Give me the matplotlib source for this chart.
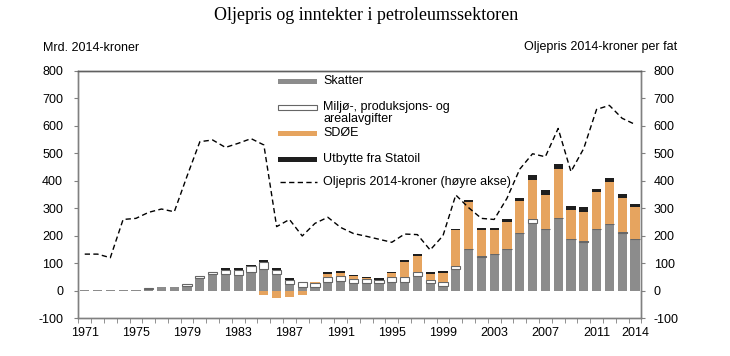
import numpy as np
import matplotlib.pyplot as plt
from matplotlib.patches import Rectangle
from matplotlib.lines import Line2D

plt.rcParams['font.family'] = ['Liberation Sans', 'DejaVu Sans']
plt.rcParams['font.size'] = 9
plt.rcParams['axes.unicode_minus'] = False

# data, milliarder 2014-kroner (venstre akse) og kroner per fat (høyre akse)
years = np.arange(1971, 2015)
skatter = [3, 3, 3, 4, 4, 7, 15, 15, 18,
           45, 59, 59, 56, 67, 78, 61, 23, 15, 12,
           33, 36, 27, 27, 27, 33, 33, 55, 27, 17,
           78, 150, 124, 133, 150, 208, 247, 223, 263, 187, 178, 223, 242, 211, 187]
miljo = [0, 0, 0, 0, 0, 1, 0, 0, 5,
         10, 10, 15, 19, 21, 27, 15, 16, 15, 17,
         18, 18, 15, 16, 12, 15, 18, 12, 12, 13,
         12, 2, 1, 1, 1, 1, 13, 1, 2, 1, 1, 1, 1, 1, 1]
sdoe = [0, 0, 0, 0, 0, 0, 0, 0, 0,
        0, 0, 0, 0, 0, -16, -28, -22, -16, 4,
        10, 11, 10, 2, 0, 16, 55, 59, 22, 33,
        130, 170, 97, 87, 97, 118, 144, 125, 178, 104, 107, 135, 153, 124, 117]
utbytte = [0, 0, 0, 0, 0, 0, 0, 0, 0,
           0, 0, 7, 6, 6, 6, 6, 6, 0, 0,
           6, 6, 6, 6, 6, 4, 6, 6, 6, 8,
           5, 6, 6, 6, 12, 10, 16, 16, 16, 17, 18, 9, 12, 17, 10]
oljepris = [133, 133, 120, 259, 263, 285, 297, 287, 417, 542,
            548, 521, 536, 553, 530, 233, 259, 199, 245, 267,
            230, 208, 198, 187, 176, 206, 204, 148, 200, 348,
            302, 263, 259, 336, 442, 498, 487, 590, 433, 517, 659, 674, 627, 605]
label_years = [1971, 1975, 1979, 1983, 1987, 1991, 1995, 1999, 2003, 2007, 2011, 2014]

GREY = '#8c8c8c'
ORANGE = '#e6a45f'
BLACK = '#1e1e1e'
SPINE = '#808080'
W = 0.72

skatter = np.array(skatter)
miljo = np.array(miljo)
sdoe = np.array(sdoe)
utbytte = np.array(utbytte)

fig = plt.figure(figsize=(7.3, 3.56), dpi=100)
ax = fig.add_axes([0.1073, 0.1062, 0.7712, 0.6952])

ax.bar(years, skatter, W, color=GREY, zorder=2)
m = miljo > 0
ax.bar(years[m], miljo[m], W, bottom=skatter[m], color='white',
       edgecolor='#666666', linewidth=0.8, zorder=2)
sdoe_bottom = np.where(sdoe > 0, skatter + miljo, 0)
s = sdoe != 0
ax.bar(years[s], sdoe[s], W, bottom=sdoe_bottom[s], color=ORANGE, zorder=2)
top = skatter + miljo + np.clip(sdoe, 0, None)
u = utbytte > 0
ax.bar(years[u], utbytte[u], W, bottom=top[u], color=BLACK, zorder=2)

ax.set_xlim(1970.5, 2014.5)
ax.set_ylim(-100, 800)
ax.set_yticks(range(-100, 801, 100))
ax.set_xticks(label_years)
ax.set_xticks(np.arange(1970.5, 2015, 1), minor=True)
ax.tick_params(axis='x', which='major', length=0, pad=6)
ax.tick_params(axis='x', which='minor', length=3.5, color=SPINE, direction='out')
ax.tick_params(axis='y', length=3, color=SPINE, pad=8)

ax2 = ax.twinx()
ax2.plot(years, oljepris, color='black', lw=1.0, dashes=(3.8, 2.4), zorder=3)
ax2.set_ylim(-100, 800)
ax2.set_yticks(range(-100, 801, 100))
ax2.tick_params(axis='y', length=3, color=SPINE, pad=6)

for a in (ax, ax2):
    for sp in a.spines.values():
        sp.set_color(SPINE)
        sp.set_linewidth(1)
ax.spines['top'].set_color('#606060')
ax2.spines['top'].set_color('#606060')

fig.text(0.502, 1 - 15 / 356, 'Oljepris og inntekter i petroleumssektoren',
         family='Liberation Serif', fontsize=13, ha='center', va='center')
fig.text(43 / 730, 1 - 48 / 356, 'Mrd. 2014-kroner', ha='left', va='center')
fig.text(601 / 730, 1 - 47 / 356, 'Oljepris 2014-kroner per fat', ha='center', va='center')


# legend drawn by hand, positions in pixels
def fx(x):
    return x / 730


def fy(y):
    return 1 - y / 356


entries = [
    ('patch', GREY, None, 'Skatter', 81),
    ('patch', 'white', '#666666', 'Miljø-, produksjons- og\narealavgifter', 107.5),
    ('patch', ORANGE, None, 'SDØE', 133.5),
    ('patch', BLACK, None, 'Utbytte fra Statoil', 159),
    ('line', None, None, 'Oljepris 2014-kroner (høyre akse)', 182.5),
]
for kind, fc, ec, text, yc in entries:
    if kind == 'patch':
        fig.add_artist(Rectangle((fx(278.3), fy(yc + 2.5)), 38.4 / 730, 5 / 356,
                                 transform=fig.transFigure, facecolor=fc,
                                 edgecolor=ec if ec else 'none', linewidth=0.8))
    else:
        fig.add_artist(Line2D([fx(280), fx(317)], [fy(yc), fy(yc)], transform=fig.transFigure,
                              color='black', lw=1.0, dashes=(3.8, 2.4)))
    if '\n' in text:
        fig.text(fx(323.3), fy(yc - 6.8), text, ha='left', va='top', linespacing=1.05)
    else:
        fig.text(fx(323.3), fy(yc), text, ha='left', va='center')

fig.savefig('out.png', dpi=100)
